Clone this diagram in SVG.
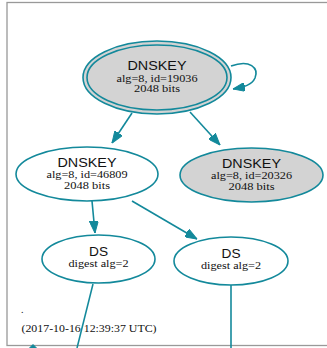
<svg xmlns="http://www.w3.org/2000/svg" width="327" height="348" viewBox="0 0 327 348">
  <style>
    .frame { fill: none; stroke: #999; stroke-width: 1.3; }
    .node { fill: #fff; stroke: #13899b; stroke-width: 1.6; }
    .sel { fill: #d3d3d3; }
    .edge { fill: none; stroke: #13899b; stroke-width: 1.6; }
    .head { fill: #13899b; stroke: #13899b; stroke-width: 1; }
    .title { font-family: "Liberation Sans", Arial, sans-serif; font-size: 12px; fill: #111; text-anchor: middle; }
    .sub { font-family: "Liberation Serif", "Times New Roman", serif; font-size: 10px; fill: #111; text-anchor: middle; }
    .note { font-family: "Liberation Serif", "Times New Roman", serif; font-size: 10px; fill: #111; }
  </style>
  <defs>
    <marker id="arrow" viewBox="0 0 12 9" refX="12" refY="4.5" markerWidth="12" markerHeight="9" markerUnits="userSpaceOnUse" orient="auto">
      <path d="M0,0 L12,4.5 L0,9 Z" class="head"/>
    </marker>
  </defs>

  <rect x="0" y="0" width="327" height="348" fill="#fff"/>
  <!-- zone cluster frame -->
  <rect class="frame" x="7" y="2.5" width="340" height="343"/>

  <g id="connectors">
    <!-- self-signature loop on the SEP key -->
    <path class="edge" d="M231,66 C250,59 259,68 255,78 C252,85 244,87 233,89" marker-end="url(#arrow)"/>
    <path class="edge" d="M132,113 L112,143" marker-end="url(#arrow)"/>
    <path class="edge" d="M190,112 L220,145" marker-end="url(#arrow)"/>
    <path class="edge" d="M92,201 L95,233" marker-end="url(#arrow)"/>
    <path class="edge" d="M132,201 L197,239" marker-end="url(#arrow)"/>
    <path class="edge" d="M93,284 L77,348"/>
    <path class="edge" d="M231,285 L231,348"/>
    <path class="head" d="M28.5,349 L33,344.5 L37.5,349 Z"/>
  </g>

  <g id="dnskey-19036">
    <ellipse class="node sel" cx="157" cy="77.5" rx="74" ry="36.5"/>
    <ellipse class="node sel" cx="157" cy="77.5" rx="70" ry="32.5"/>
    <text class="title" x="157" y="70.3" textLength="59" lengthAdjust="spacingAndGlyphs">DNSKEY</text>
    <text class="sub" x="157" y="81.7" textLength="81" lengthAdjust="spacingAndGlyphs">alg=8, id=19036</text>
    <text class="sub" x="157" y="92.3" textLength="46" lengthAdjust="spacingAndGlyphs">2048 bits</text>
  </g>

  <g id="dnskey-46809">
    <ellipse class="node" cx="87" cy="174" rx="71" ry="27"/>
    <text class="title" x="87" y="166.8" textLength="59" lengthAdjust="spacingAndGlyphs">DNSKEY</text>
    <text class="sub" x="87" y="178.2" textLength="81" lengthAdjust="spacingAndGlyphs">alg=8, id=46809</text>
    <text class="sub" x="87" y="188.8" textLength="46" lengthAdjust="spacingAndGlyphs">2048 bits</text>
  </g>

  <g id="dnskey-20326">
    <ellipse class="node sel" cx="251.5" cy="175" rx="71.5" ry="27"/>
    <text class="title" x="251.5" y="167.8" textLength="59" lengthAdjust="spacingAndGlyphs">DNSKEY</text>
    <text class="sub" x="251.5" y="179.2" textLength="81" lengthAdjust="spacingAndGlyphs">alg=8, id=20326</text>
    <text class="sub" x="251.5" y="189.8" textLength="46" lengthAdjust="spacingAndGlyphs">2048 bits</text>
  </g>

  <g id="ds-1">
    <ellipse class="node" cx="98.5" cy="259" rx="56.5" ry="24"/>
    <text class="title" x="98.5" y="255.5" textLength="19" lengthAdjust="spacingAndGlyphs">DS</text>
    <text class="sub" x="98.5" y="267" textLength="60" lengthAdjust="spacingAndGlyphs">digest alg=2</text>
  </g>

  <g id="ds-2">
    <ellipse class="node" cx="231" cy="261" rx="57" ry="24"/>
    <text class="title" x="231" y="257.5" textLength="19" lengthAdjust="spacingAndGlyphs">DS</text>
    <text class="sub" x="231" y="269" textLength="60" lengthAdjust="spacingAndGlyphs">digest alg=2</text>
  </g>

  <g id="zone-label">
    <text class="note" x="21" y="313">.</text>
    <text class="note" x="21.5" y="332" textLength="135" lengthAdjust="spacingAndGlyphs">(2017-10-16 12:39:37 UTC)</text>
  </g>
</svg>
